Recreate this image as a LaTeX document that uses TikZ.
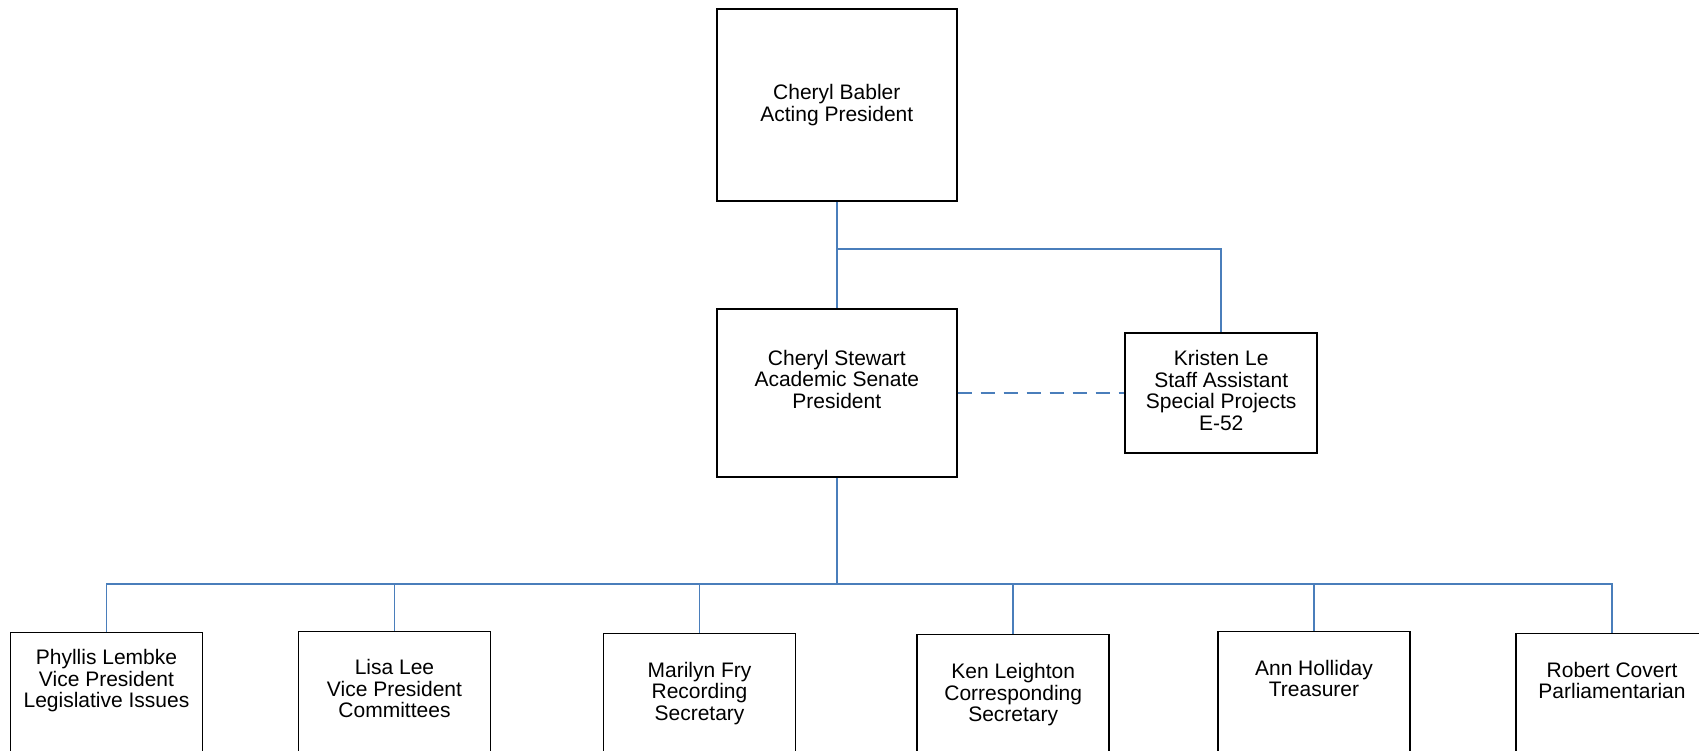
\documentclass[tikz,border=0pt]{standalone}
\usepackage{fontspec}
\setmainfont{Liberation Sans}
\usetikzlibrary{positioning}
\definecolor{linkblue}{HTML}{4A7EBB}

\begin{document}
\begin{tikzpicture}[x=1pt, y=1pt,
	box/.style={draw, line width=1.7pt, minimum width=192pt, inner sep=0pt},
	txt/.style={align=center, inner sep=0pt, font=\fontsize{21}{21.5}\selectfont},
	link/.style={draw=linkblue, line width=1.7pt}]
	\useasboundingbox (0,0) rectangle (1699,-750);

	\node[box, minimum width=240pt, minimum height=192pt] (babler) at (836.8,-105) {};
	\node[box, minimum width=240pt, minimum height=168pt] (stewart) at (836.8,-392.8) {};
	\node[box, minimum height=120pt] (le) at (1221.2,-392.8) {};
	\node[box, minimum height=150pt, anchor=north] (phyllis) at (106.5,-631.7) {};
	\node[box, minimum height=150pt, anchor=north] (lisa) at (394.5,-630.7) {};
	\node[box, minimum height=150pt, anchor=north] (marilyn) at (699.5,-632.7) {};
	\node[box, minimum height=150pt, anchor=north] (ken) at (1013.2,-633.7) {};
	\node[box, minimum height=150pt, anchor=north] (ann) at (1314,-630.7) {};
	\node[box, minimum height=150pt, anchor=north] (robert) at (1612,-632.7) {};

	\node[txt, below=76pt of babler.north] {Cheryl Babler\\Acting President};
	\node[txt, below=42pt of stewart.north] {Cheryl Stewart\\Academic Senate\\President};
	\node[txt, below=18.3pt of le.north] {Kristen Le\\Staff Assistant\\Special Projects\\E-52};
	\node[txt, below=17.6pt of phyllis.north] {Phyllis Lembke\\Vice President\\Legislative Issues};
	\node[txt, below=28.6pt of lisa.north] {Lisa Lee\\Vice President\\Committees};
	\node[txt, below=29pt of marilyn.north] {Marilyn Fry\\Recording\\Secretary};
	\node[txt, below=29.6pt of ken.north] {Ken Leighton\\Corresponding\\Secretary};
	\node[txt, below=29.3pt of ann.north] {Ann Holliday\\Treasurer};
	\node[txt, below=29pt of robert.north] {Robert Covert\\Parliamentarian};

	\coordinate (upper) at (836.8,-248.7);
	\coordinate (lower) at (836.8,-584);

	\path[link]
	(babler) -- (stewart)
	(upper) -| (le.north)
	(stewart) -- (lower)
	(lower) -| (phyllis.north)
	(lower) -| (lisa.north)
	(lower) -| (marilyn.north)
	(lower) -| (ken.north)
	(lower) -| (ann.north)
	(lower) -| (robert.north);
	\path[link, dash pattern=on 14.5pt off 8.5pt] (stewart) -- (le);
\end{tikzpicture}
\end{document}
